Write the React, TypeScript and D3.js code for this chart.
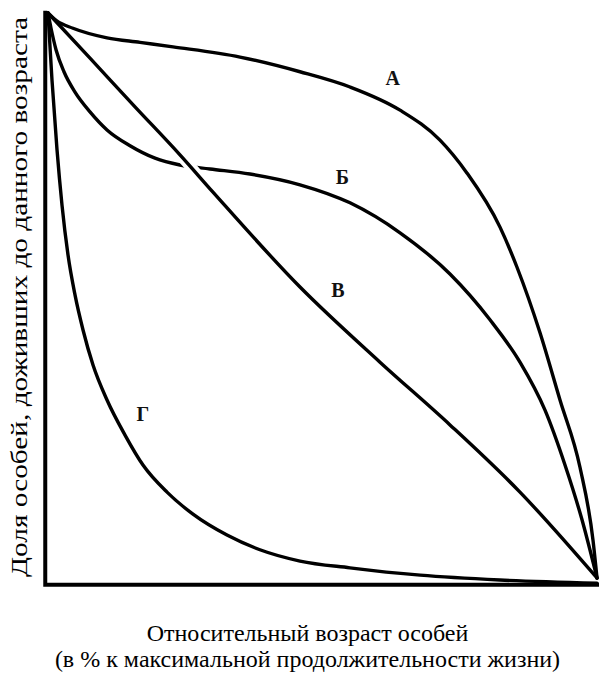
import React from "react";
import * as d3 from "d3";

type Pt = [number, number];

const curveA: Pt[] = [
  [0, 100], [1.6, 98.6], [4.55, 97.3], [10.75, 95.6], [16.76, 94.8], [22.77, 94.0], [34.97, 92.2],
  [45.9, 89.6], [55.01, 86.9], [64.12, 82.8], [71.4, 77.5], [76.3, 71.7], [82.33, 62.1],
  [85.43, 55.0], [89.62, 43.4], [93.26, 31.5], [96.9, 19.6], [99.27, 6.7], [100, 0],
];
const curveB: Pt[] = [
  [0, 100], [0.55, 97.3], [1.46, 93.5], [2.91, 89.6], [4.92, 86.0], [7.65, 82.5],
  [10.75, 79.3], [14.94, 76.5], [19.49, 74.3], [24.04, 73.1], [29.51, 72.4], [36.79, 71.5],
  [45.9, 69.6], [55.01, 66.4], [64.12, 61.1], [73.22, 53.8], [80.51, 45.7], [85.97, 38.2],
  [90.53, 29.7], [94.17, 20.0], [97.27, 10.3], [100, 0],
];
const curveV: Pt[] = [
  [0, 100], [7.65, 92.0], [15.85, 83.4], [24.04, 74.9], [30.05, 68.3], [45.9, 51.5],
  [60.47, 38.2], [73.22, 27.1], [85.97, 15.2], [100, 0],
];
const curveG: Pt[] = [
  [0, 100], [0.73, 88.1], [1.64, 75.8], [2.55, 66.0], [3.64, 57.2], [4.92, 50.1],
  [6.38, 43.9], [8.2, 37.7], [10.75, 31.5], [14.03, 25.3], [17.3, 20.0], [21.68, 15.2],
  [26.41, 11.3], [32.6, 7.6], [38.6, 5.0], [45.9, 3.0], [55.0, 1.8], [67.8, 0.5],
  [82.3, -0.35], [100, -0.9],
];

const curveLabels = ["А", "Б", "В", "Г"];
const labelPos: Pt[] = [[62.8, 88.5], [53.6, 71], [52.8, 51], [17.3, 29]];
// x-range where curve В is drawn over Б with a white gap
const crossingRange: [number, number] = [21, 31];

const xTitle1 = "Относительный возраст особей";
const xTitle2 = "(в % к максимальной продолжительности жизни)";
const yTitle = "Доля особей, доживших до данного возраста";

const W = 599;
const H = 676;

export default function App() {
  const x = d3.scaleLinear().domain([0, 100]).range([48, 597]);
  const y = d3.scaleLinear().domain([0, 100]).range([578, 13]);
  const line = d3
    .line<Pt>()
    .x((d) => x(d[0]))
    .y((d) => y(d[1]))
    .curve(d3.curveMonotoneX);

  const axisY = y(-1.2);
  const axisPath = `M${x(-0.5)},${y(100.4)}L${x(-0.5)},${axisY}L${x(100.4)},${axisY}`;
  const font = "Liberation Serif";
  const stroke = 3.4;

  const curvePath = (c: Pt[], key: string) => (
    <path
      key={key}
      d={line(c) || ""}
      fill="none"
      stroke="#000"
      strokeWidth={stroke}
      strokeLinecap="round"
      strokeLinejoin="round"
    />
  );

  return (
    <svg
      width={W}
      height={H}
      style={{ position: "absolute", left: 0, top: 0, background: "#fff" }}
    >
      <defs>
        <clipPath id="cross">
          <rect
            x={x(crossingRange[0])}
            y={0}
            width={x(crossingRange[1]) - x(crossingRange[0])}
            height={H}
          />
        </clipPath>
      </defs>
      <rect width={W} height={H} fill="#fff" />
      <path d={axisPath} fill="none" stroke="#000" strokeWidth={4} />
      {curvePath(curveA, "a")}
      {curvePath(curveB, "b")}
      {curvePath(curveG, "g")}
      <path
        d={line(curveV) || ""}
        fill="none"
        stroke="#fff"
        strokeWidth={11}
        clipPath="url(#cross)"
      />
      {curvePath(curveV, "v")}
      {curveLabels.map((t, i) => (
        <text
          key={t}
          x={x(labelPos[i][0])}
          y={y(labelPos[i][1])}
          textAnchor="middle"
          dominantBaseline="central"
          style={{ fontFamily: font }}
          fontWeight="bold"
          fontSize={20}
          fill="#111"
        >
          {t}
        </text>
      ))}
      <text
        transform={`translate(27,${(y(100) + axisY) / 2 - 2}) rotate(-90)`}
        textAnchor="middle"
        style={{ fontFamily: font }}
        fontSize={24}
        textLength={560}
        lengthAdjust="spacingAndGlyphs"
        fill="#000"
      >
        {yTitle}
      </text>
      <text x={W / 2 + 8} y={641} textAnchor="middle" style={{ fontFamily: font }} fontSize={24} fill="#000">
        {xTitle1}
      </text>
      <text x={W / 2 + 8} y={667} textAnchor="middle" style={{ fontFamily: font }} fontSize={24} fill="#000">
        {xTitle2}
      </text>
    </svg>
  );
}
